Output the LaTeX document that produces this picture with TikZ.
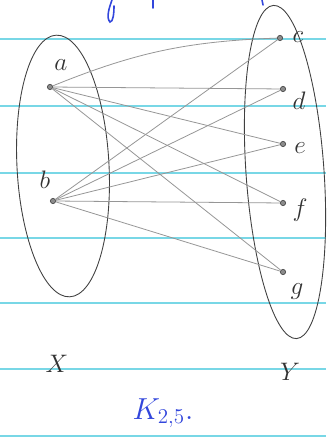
\documentclass[tikz,border=0pt]{standalone}
\usepackage{amsmath}
\usepackage{xcolor}
\usepackage{tikz}
\usetikzlibrary{arrows.meta, positioning}
\definecolor{ruleline}{RGB}{120,215,230}
\definecolor{inkblue}{RGB}{50,70,220}
\definecolor{pencil}{RGB}{150,150,150}
\tikzset{
  vtx/.style={circle, draw=black!70, fill=black!45, inner sep=0pt, minimum size=3pt, line width=0.4pt},
  lbl/.style={font=\Large, text=black!80, inner sep=1pt},
  edge/.style={draw=pencil, line width=0.45pt},
  part/.style={draw=black!75, line width=0.5pt}
}
\begin{document}
\begin{tikzpicture}[x=0.02cm, y=-0.02cm]
			% Paths, nodes and wires:
			\useasboundingbox (0,0) rectangle (326,438);
			\fill[white] (0,0) rectangle (326,438);
			\foreach \yy in {39,106,173,238,303,369,436}
				\draw[ruleline, line width=1pt] (0,\yy) -- (326,\yy);
			\draw[inkblue, line width=0.9pt, line cap=round] (112,0) .. controls (109,8) and (106,18) .. (110,22) .. controls (113,22) and (114,14) .. (114,6);
			\draw[inkblue, line width=0.9pt, line cap=round] (153,0) -- (153,8);
			\draw[inkblue, line width=0.9pt, line cap=round] (262,0) -- (263,5);
			\draw[part, rotate around={3:(63,166)}] (63,166) ellipse [x radius=46, y radius=131];
			\draw[part, rotate around={4:(285,172)}] (285,172) ellipse [x radius=39, y radius=167];
			\node[vtx] (a) at (50,87) {};
			\node[vtx] (b) at (53,201) {};
			\node[vtx] (c) at (280,38) {};
			\node[vtx] (d) at (283,89) {};
			\node[vtx] (e) at (283,144) {};
			\node[vtx] (f) at (283,203) {};
			\node[vtx] (g) at (283,272) {};
			\node[lbl] (la) at (61,65) {$a$};
			\node[lbl] (lb) at (45,180) {$b$};
			\node[lbl] (lc) at (298,37) {$c$};
			\node[lbl] (ld) at (299,101) {$d$};
			\node[lbl] (le) at (300,148) {$e$};
			\node[lbl] (lf) at (300,210) {$f$};
			\node[lbl] (lg) at (297,292) {$g$};
			\node[lbl] (X) at (57,364) {$X$};
			\node[lbl] (Y) at (290,372) {$Y$};
			\node[lbl, font=\LARGE, text=inkblue] (K) at (163,413) {$K_{2,5}.$};
			\draw[edge] (a) to[bend left=10] (c);
			\foreach \t in {d,e,f,g}
				\draw[edge] (a) -- (\t);
			\foreach \t in {c,d,e,f,g}
				\draw[edge] (b) -- (\t);
		\end{tikzpicture}
\end{document}
